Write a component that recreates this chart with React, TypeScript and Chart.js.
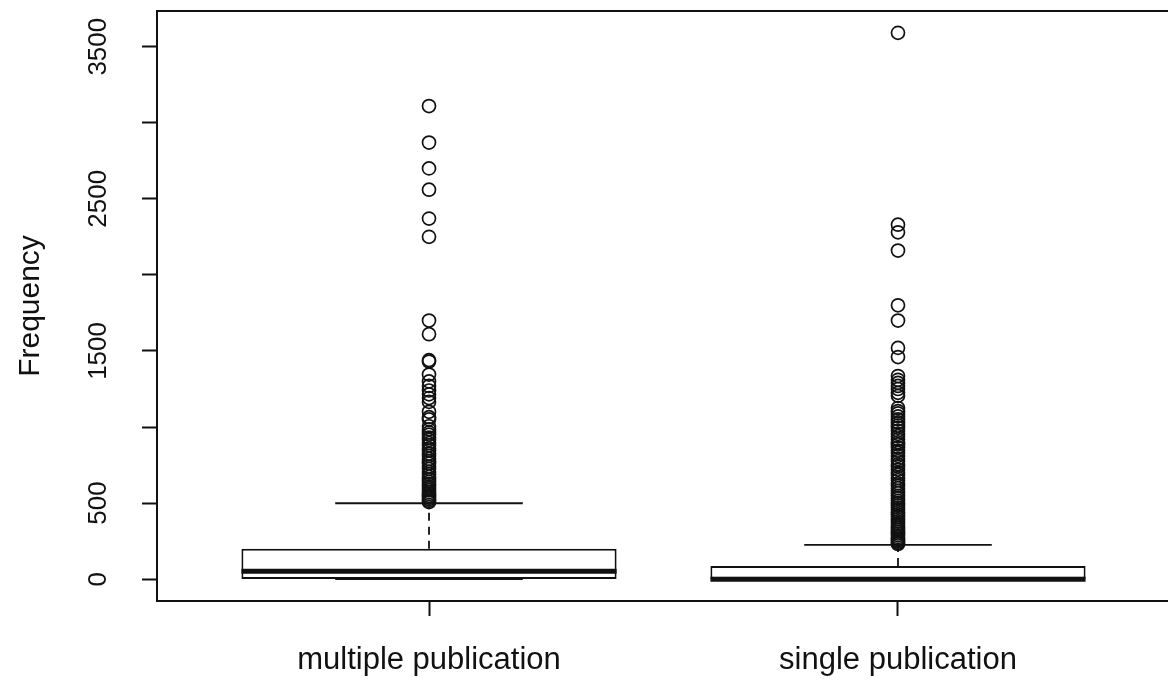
import React, { useEffect, useRef } from "react";
import { Chart, registerables } from "chart.js";

Chart.register(...registerables);

const categories = ["multiple publication", "single publication"];
const whiskerLow = [0, 0];
const q1 = [1, 0];
const medians = [52, 0];
const q3 = [200, 87];
const whiskerHigh = [499, 225];

const outliersMultiple = [
  3110, 2870, 2700, 2560, 2370, 2250, 1700, 1610, 1440, 1430, 1345, 1300, 1270,
  1240, 1215, 1190, 1165, 1100, 1065, 1050, 1005, 985, 965, 950, 930, 915, 895,
  880, 860, 845, 825, 810, 790, 775, 760, 740, 725, 705, 690, 672, 655, 640, 625,
  610, 598, 585, 572, 560, 548, 537, 526, 515, 506,
];

const outliersSingle = [
  3591, 2330, 2280, 2160, 1800, 1700, 1520, 1460, 1335, 1310, 1290, 1270, 1250,
  1225, 1205, 1125, 1105, 1090, 1070, 1050, 1030, 1010, 995, 975, 955, 940, 920,
  900, 885, 865, 845, 830, 810, 790, 775, 755, 740, 720, 700, 685, 665, 650, 630,
  615, 598, 580, 565, 548, 532, 515, 500, 485, 470, 455, 440, 425, 410, 395, 380,
  365, 350, 338, 325, 312, 300, 288, 276, 265, 255, 246, 238, 231,
];

const yTickValues = [0, 500, 1000, 1500, 2000, 2500, 3000, 3500];
const yTickLabeled = [0, 500, 1500, 2500, 3500];

const BLACK = "#111111";
const FONT = "'Liberation Sans', Arial, sans-serif";

export default function App() {
  const ref = useRef<HTMLCanvasElement | null>(null);

  useEffect(() => {
    if (!ref.current) return;
    const lineDatasets: any[] = [];
    categories.forEach((_, i) => {
      const x = i + 1;
      lineDatasets.push({
        type: "line",
        data: [
          { x: x - 0.4, y: medians[i] },
          { x: x + 0.4, y: medians[i] },
        ],
        borderColor: BLACK,
        borderWidth: 5,
        pointRadius: 0,
        order: 2,
      });
      lineDatasets.push({
        type: "line",
        data: [
          { x: x - 0.2, y: whiskerHigh[i] },
          { x: x + 0.2, y: whiskerHigh[i] },
        ],
        borderColor: BLACK,
        borderWidth: 1.8,
        pointRadius: 0,
        order: 2,
      });
      lineDatasets.push({
        type: "line",
        data: [
          { x: x, y: q3[i] },
          { x: x, y: whiskerHigh[i] },
        ],
        borderColor: BLACK,
        borderWidth: 1.8,
        borderDash: [8, 6],
        pointRadius: 0,
        order: 2,
      });
      lineDatasets.push({
        type: "line",
        data: [
          { x: x - 0.2, y: whiskerLow[i] },
          { x: x + 0.2, y: whiskerLow[i] },
        ],
        borderColor: BLACK,
        borderWidth: 1.8,
        pointRadius: 0,
        order: 2,
      });
    });

    const framePlugin = {
      id: "frame",
      afterDraw(chart: any) {
        const { ctx, chartArea } = chart;
        ctx.save();
        ctx.strokeStyle = BLACK;
        ctx.lineWidth = 2;
        ctx.strokeRect(
          chartArea.left,
          chartArea.top,
          chartArea.right - chartArea.left,
          chartArea.bottom - chartArea.top
        );
        ctx.restore();
      },
    };

    const chart = new Chart(ref.current, {
      type: "bar",
      data: {
        datasets: [
          {
            type: "bar",
            data: categories.map((_, i) => ({ x: i + 1, y: [q1[i], q3[i]] })),
            backgroundColor: "#ffffff",
            borderColor: BLACK,
            borderWidth: 2,
            borderSkipped: false,
            categoryPercentage: 1,
            barPercentage: 0.8,
            order: 3,
          } as any,
          ...lineDatasets,
          {
            type: "scatter",
            data: [
              ...outliersMultiple.map((v) => ({ x: 1, y: v })),
              ...outliersSingle.map((v) => ({ x: 2, y: v })),
            ],
            pointStyle: "circle",
            pointRadius: 6.5,
            borderWidth: 1.7,
            borderColor: BLACK,
            backgroundColor: "rgba(0,0,0,0)",
            order: 1,
          } as any,
        ],
      },
      options: {
        animation: false,
        responsive: false,
        devicePixelRatio: 1,
        layout: {
          autoPadding: false,
          padding: { top: 11, left: 0, right: 0, bottom: 0 },
        },
        plugins: {
          legend: { display: false },
          tooltip: { enabled: false },
        },
        scales: {
          x: {
            type: "linear",
            min: 0.42,
            max: 2.58,
            offset: false,
            afterBuildTicks: (s: any) => {
              s.ticks = [{ value: 1 }, { value: 2 }];
            },
            afterFit: (s: any) => {
              s.height = 81;
              s.paddingLeft = 0;
              s.paddingRight = 0;
              s.paddingTop = 0;
              s.paddingBottom = 0;
            },
            border: { display: false },
            grid: {
              display: true,
              offset: false,
              drawOnChartArea: false,
              drawTicks: true,
              tickLength: 15,
              tickColor: BLACK,
              tickWidth: 2,
            },
            ticks: {
              autoSkip: false,
              maxRotation: 0,
              minRotation: 0,
              padding: 26,
              color: BLACK,
              font: { family: FONT, size: 31 },
              callback: (v: any) => categories[Math.round(Number(v)) - 1] ?? "",
            },
          },
          y: {
            type: "linear",
            min: -143.64,
            max: 3734.64,
            afterBuildTicks: (s: any) => {
              s.ticks = yTickValues.map((v) => ({ value: v }));
            },
            afterFit: (s: any) => {
              s.width = 157;
              s.paddingLeft = 0;
              s.paddingRight = 0;
              s.paddingTop = 0;
              s.paddingBottom = 0;
            },
            border: { display: false },
            grid: {
              display: true,
              drawOnChartArea: false,
              drawTicks: true,
              tickLength: 15,
              tickColor: BLACK,
              tickWidth: 2,
            },
            ticks: {
              autoSkip: false,
              minRotation: 90,
              maxRotation: 90,
              crossAlign: "center",
              padding: 14,
              color: BLACK,
              font: { family: FONT, size: 26 },
              callback: (v: any) =>
                yTickLabeled.includes(Number(v)) ? String(v) : "",
            },
            title: {
              display: true,
              text: "Frequency",
              color: BLACK,
              padding: { top: 13, bottom: 0 },
              font: { family: FONT, size: 30 },
            },
          },
        },
      },
      plugins: [framePlugin],
    });
    return () => chart.destroy();
  }, []);

  return (
    <div
      style={{
        position: "fixed",
        left: 0,
        top: 0,
        width: 1168,
        height: 682,
        overflow: "hidden",
        background: "#ffffff",
      }}
    >
      <canvas
        ref={ref}
        width={1170}
        height={682}
        style={{ width: 1170, height: 682, display: "block" }}
      />
    </div>
  );
}
